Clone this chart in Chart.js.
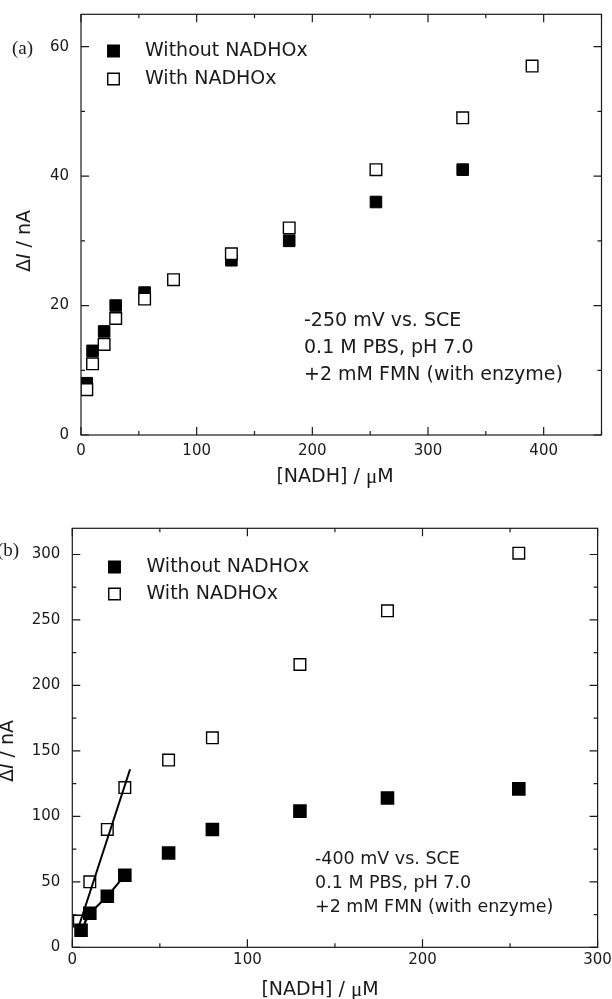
<!DOCTYPE html>
<html>
<head>
<meta charset="utf-8">
<script src="https://cdn.jsdelivr.net/npm/chart.js@4.4.1/dist/chart.umd.min.js"></script>
<style>
  html, body { margin: 0; padding: 0; background: #fff; }
  #wrap { position: relative; width: 612px; height: 999px; overflow: hidden; }
  canvas { position: absolute; left: 0; }
</style>
</head>
<body>
<div id="wrap">
  <canvas id="chartA" width="612" height="490" style="top:0"></canvas>
  <canvas id="chartB" width="612" height="509" style="top:490px"></canvas>
</div>
<script>
// (a) -250 mV
const nadhA_without = [5, 10, 20, 30, 55, 130, 180, 255, 330];
const currentA_without = [8, 13, 16, 20, 22, 27, 30, 36, 41];
const nadhA_with = [5, 10, 20, 30, 55, 80, 130, 180, 255, 330, 390];
const currentA_with = [7, 11, 14, 18, 21, 24, 28, 32, 41, 49, 57];
const xTicksA = [0, 100, 200, 300, 400];
const yTicksA = [0, 20, 40, 60];

// (b) -400 mV
const nadhB_without = [5, 10, 20, 30, 55, 80, 130, 180, 255];
const currentB_without = [13, 26, 39, 55, 72, 90, 104, 114, 121];
const nadhB_with = [4, 10, 20, 30, 55, 80, 130, 180, 255];
const currentB_with = [20, 50, 90, 122, 143, 160, 216, 257, 301];
const linkedB_without = 4; // erste Punkte mit Linie verbunden
const fitB_x = [3, 33];
const fitB_y = [13, 136];
const xTicksB = [0, 100, 200, 300];
const yTicksB = [0, 50, 100, 150, 200, 250, 300];

const labelWithout = 'Without NADHOx';
const labelWith = 'With NADHOx';

const SANS = '"DejaVu Sans", sans-serif';
const SERIF = '"Liberation Serif", serif';
const INK = '#1a1a1a';

const toPoints = (xs, ys) => xs.map((x, i) => ({ x: x, y: ys[i] }));

function drawSquare(ctx, x, y, side, filled) {
  ctx.beginPath();
  ctx.rect(x - side / 2, y - side / 2, side, side);
  ctx.fillStyle = filled ? '#000' : '#fff';
  ctx.fill();
  ctx.lineWidth = 1.4;
  ctx.strokeStyle = '#000';
  ctx.stroke();
}

function drawParts(ctx, parts, cx, cy, rotate) {
  ctx.save();
  ctx.translate(cx, cy);
  if (rotate) ctx.rotate(-Math.PI / 2);
  ctx.textBaseline = 'middle';
  ctx.textAlign = 'left';
  ctx.fillStyle = INK;
  let total = 0;
  parts.forEach(p => { ctx.font = p.font; total += ctx.measureText(p.text).width; });
  let x = -total / 2;
  parts.forEach(p => {
    ctx.font = p.font;
    ctx.fillText(p.text, x, 0);
    x += ctx.measureText(p.text).width;
  });
  ctx.restore();
}

// Rahmen, Ticks nach innen, Legende, Beschriftungen
const panelPlugin = {
  id: 'panel',
  afterDraw(chart, args, o) {
    const ctx = chart.ctx, a = chart.chartArea;
    const xs = chart.scales.x, ys = chart.scales.y;
    ctx.save();
    ctx.strokeStyle = INK;
    ctx.lineWidth = 1.2;
    ctx.strokeRect(a.left, a.top, a.right - a.left, a.bottom - a.top);

    ctx.beginPath();
    for (let v = xs.min; v <= xs.max + 1e-9; v += o.xMinor) {
      const len = o.xMajor.includes(v) ? 8 : 4;
      const px = xs.getPixelForValue(v);
      ctx.moveTo(px, a.bottom); ctx.lineTo(px, a.bottom - len);
      ctx.moveTo(px, a.top); ctx.lineTo(px, a.top + len);
    }
    for (let v = ys.min; v <= ys.max + 1e-9; v += o.yMinor) {
      const len = o.yMajor.includes(v) ? 8 : 4;
      const py = ys.getPixelForValue(v);
      ctx.moveTo(a.left, py); ctx.lineTo(a.left + len, py);
      ctx.moveTo(a.right, py); ctx.lineTo(a.right - len, py);
    }
    ctx.stroke();

    // Legende
    ctx.font = o.legendSize + 'px ' + SANS;
    o.legend.forEach((lbl, i) => {
      const ds = chart.data.datasets.find(d => d.label === lbl);
      const y = o.legendY[i];
      drawSquare(ctx, o.legendX, y, 11.5, ds.backgroundColor === '#000');
      ctx.fillStyle = INK;
      ctx.textBaseline = 'middle';
      ctx.textAlign = 'left';
      ctx.font = o.legendSize + 'px ' + SANS;
      ctx.fillText(lbl, o.legendTextX, y);
    });

    // Bedingungen
    ctx.font = o.noteSize + 'px ' + SANS;
    ctx.fillStyle = INK;
    o.note.forEach((t, i) => ctx.fillText(t, o.noteX, o.noteY[i]));

    // Panel (a)/(b)
    ctx.font = '19px ' + SERIF;
    ctx.fillText(o.panel, o.panelX, o.panelY);
    ctx.restore();

    drawParts(ctx, [
      { text: 'Δ', font: '19px ' + SANS },
      { text: 'I', font: 'italic 19px ' + SANS },
      { text: ' / nA', font: '19px ' + SANS }
    ], o.yTitleX, o.yTitleY, true);
    drawParts(ctx, [
      { text: '[NADH] / ', font: '19px ' + SANS },
      { text: 'μ', font: '21px ' + SERIF },
      { text: 'M', font: '19px ' + SANS }
    ], o.xTitleX, o.xTitleY, false);
  }
};

function axis(min, max, ticks, pad, fit, horizontal) {
  return {
    type: 'linear', min: min, max: max,
    grid: { display: false, drawTicks: false },
    border: { display: false },
    ticks: { font: { family: SANS, size: 15 }, color: INK, padding: pad, autoSkip: false, maxRotation: 0 },
    afterBuildTicks: s => { s.ticks = ticks.map(v => ({ value: v })); },
    afterFit: s => {
      if (horizontal) { s.height = fit; s.paddingLeft = 0; s.paddingRight = 0; }
      else { s.width = fit; s.paddingTop = 0; s.paddingBottom = 0; }
    }
  };
}

Chart.register(panelPlugin);

new Chart(document.getElementById('chartA'), {
  type: 'scatter',
  data: {
    datasets: [{
      label: labelWith,
      data: toPoints(nadhA_with, currentA_with),
      pointStyle: 'rect', pointRadius: 8.2, pointHoverRadius: 8.2,
      backgroundColor: '#fff', borderColor: '#000', borderWidth: 1.4
    }, {
      label: labelWithout,
      data: toPoints(nadhA_without, currentA_without),
      pointStyle: 'rect', pointRadius: 8.2, pointHoverRadius: 8.2,
      backgroundColor: '#000', borderColor: '#000', borderWidth: 1
    }]
  },
  options: {
    responsive: false, animation: false,
    layout: { padding: { top: 14.3, right: 10.5, left: 0, bottom: 0 } },
    scales: {
      x: axis(0, 450, xTicksA, 7, 55, true),
      y: axis(0, 65, yTicksA, 12, 81, false)
    },
    plugins: {
      legend: { display: false }, tooltip: { enabled: false },
      panel: {
        xMinor: 50, xMajor: xTicksA, yMinor: 10, yMajor: yTicksA,
        legend: [labelWithout, labelWith], legendX: 113.5, legendY: [51, 79], legendTextX: 145, legendSize: 19,
        note: ['-250 mV vs. SCE', '0.1 M PBS, pH 7.0', '+2 mM FMN (with enzyme)'],
        noteX: 304, noteY: [321, 348, 375], noteSize: 19,
        panel: '(a)', panelX: 12, panelY: 49,
        yTitleX: 25, yTitleY: 241, xTitleX: 335, xTitleY: 477
      }
    }
  }
});

new Chart(document.getElementById('chartB'), {
  type: 'scatter',
  data: {
    datasets: [{
      label: 'fit',
      data: toPoints(fitB_x, fitB_y),
      showLine: true, pointRadius: 0, pointHoverRadius: 0,
      borderColor: '#000', borderWidth: 2
    }, {
      label: labelWithout,
      data: toPoints(nadhB_without, currentB_without),
      showLine: true,
      segment: { borderColor: c => c.p1DataIndex < linkedB_without ? '#000' : 'rgba(0,0,0,0)' },
      pointStyle: 'rect', pointRadius: 8.2, pointHoverRadius: 8.2,
      backgroundColor: '#000', borderColor: '#000', borderWidth: 2
    }, {
      label: labelWith,
      data: toPoints(nadhB_with, currentB_with),
      pointStyle: 'rect', pointRadius: 8.2, pointHoverRadius: 8.2,
      backgroundColor: '#fff', borderColor: '#000', borderWidth: 1.4
    }]
  },
  options: {
    responsive: false, animation: false,
    layout: { padding: { top: 38.3, right: 14.4, left: 0, bottom: 0 } },
    scales: {
      x: axis(0, 300, xTicksB, 4, 51.7, true),
      y: axis(0, 320, yTicksB, 12, 72.3, false)
    },
    plugins: {
      legend: { display: false }, tooltip: { enabled: false },
      panel: {
        xMinor: 50, xMajor: xTicksB, yMinor: 25, yMajor: yTicksB,
        legend: [labelWithout, labelWith], legendX: 114.5, legendY: [77, 104], legendTextX: 146.5, legendSize: 19,
        note: ['-400 mV vs. SCE', '0.1 M PBS, pH 7.0', '+2 mM FMN (with enzyme)'],
        noteX: 315, noteY: [369.5, 393.5, 417.5], noteSize: 17.5,
        panel: '(b)', panelX: -3, panelY: 61,
        yTitleX: 8, yTitleY: 261, xTitleX: 320, xTitleY: 500
      }
    }
  }
});
</script>
</body>
</html>
